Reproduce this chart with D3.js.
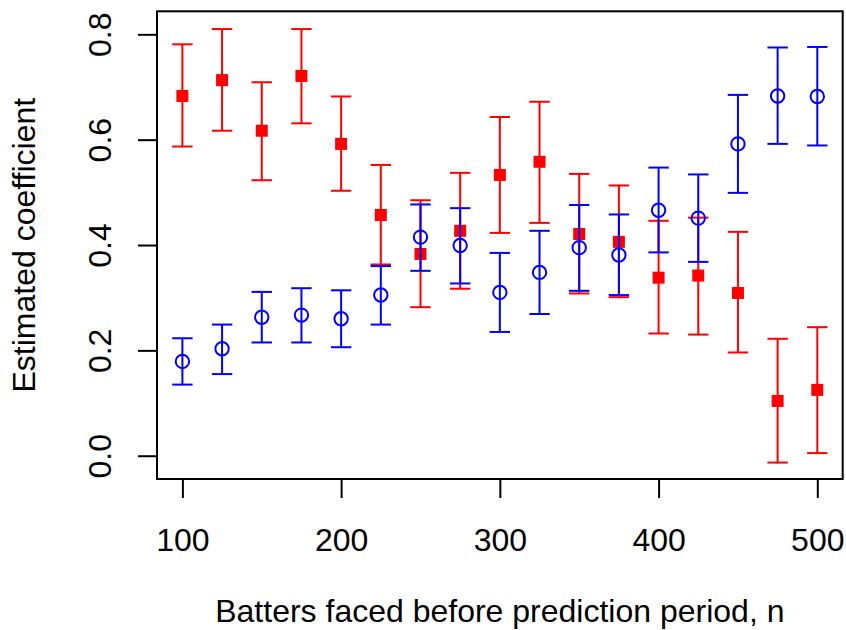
<!DOCTYPE html>
<html>
<head>
<meta charset="utf-8">
<script src="https://cdn.jsdelivr.net/npm/d3@7"></script>
<style>
  html, body { margin: 0; padding: 0; background: #fff; }
  svg { display: block; }
  text { font-family: "Liberation Sans", Arial, Helvetica, sans-serif; fill: #000; }
</style>
</head>
<body>
<svg id="chart" width="846" height="630"></svg>
<script>
// ---- data ----
const batters = [100,125,150,175,200,225,250,275,300,325,350,375,400,425,450,475,500];

const redEst = [0.683,0.713,0.617,0.721,0.592,0.457,0.383,0.427,0.533,0.558,0.421,0.406,0.338,0.342,0.309,0.104,0.125];
const redLo  = [0.587,0.617,0.523,0.631,0.503,0.363,0.282,0.317,0.423,0.442,0.308,0.301,0.232,0.230,0.196,-0.013,0.005];
const redHi  = [0.781,0.810,0.709,0.810,0.682,0.552,0.485,0.537,0.643,0.672,0.535,0.513,0.446,0.452,0.425,0.222,0.244];

const blueEst = [0.179,0.203,0.263,0.267,0.260,0.305,0.415,0.399,0.310,0.348,0.395,0.381,0.466,0.451,0.592,0.683,0.682];
const blueLo  = [0.135,0.155,0.215,0.215,0.206,0.249,0.351,0.327,0.235,0.269,0.313,0.305,0.386,0.368,0.499,0.592,0.589];
const blueHi  = [0.223,0.249,0.311,0.318,0.314,0.360,0.477,0.470,0.385,0.427,0.476,0.458,0.547,0.534,0.685,0.775,0.776];

const xTicks = [100,200,300,400,500];
const yTicks = [0.0,0.2,0.4,0.6,0.8];
const xTitle = "Batters faced before prediction period, n";
const yTitle = "Estimated coefficient";

// ---- layout ----
const plot = {left: 157, right: 842.7, top: 11.3, bottom: 479};
const x = d3.scaleLinear().domain([84, 516]).range([plot.left, plot.right]);
const y = d3.scaleLinear().domain([-0.0442, 0.8437]).range([plot.bottom, plot.top]);

const svg = d3.select("#chart");
svg.append("rect").attr("x",0).attr("y",0).attr("width",846).attr("height",630).attr("fill","#fff");

const FS = 32;
const tickLen = 19;

// x axis
const xAxis = d3.axisBottom(x).tickValues(xTicks).tickSize(tickLen).tickFormat(d3.format("d"));
const gx = svg.append("g").attr("transform", `translate(0,${plot.bottom})`).call(xAxis);
gx.select(".domain").attr("d", `M${x(xTicks[0])},0H${x(xTicks[xTicks.length-1])}`)
  .attr("stroke","#000").attr("stroke-width",2);
gx.selectAll(".tick line").attr("stroke","#000").attr("stroke-width",2);
gx.selectAll(".tick text").attr("y", 71.7).attr("dy", null)
  .style("font-size", FS + "px").attr("font-family", null);

// y axis
const yAxis = d3.axisLeft(y).tickValues(yTicks).tickSize(tickLen).tickFormat(d3.format(".1f"));
const gy = svg.append("g").attr("transform", `translate(${plot.left},0)`).call(yAxis);
gy.select(".domain").attr("d", `M0,${y(yTicks[0])}V${y(yTicks[yTicks.length-1])}`)
  .attr("stroke","#000").attr("stroke-width",2);
gy.selectAll(".tick line").attr("stroke","#000").attr("stroke-width",2);
gy.selectAll(".tick text")
  .attr("x", null).attr("dy", null)
  .attr("transform", "translate(-46.3,0) rotate(-90)")
  .attr("text-anchor", "middle")
  .style("font-size", FS + "px");
gy.attr("font-family", null).attr("font-size", null);
gx.attr("font-family", null).attr("font-size", null);

// box
svg.append("rect")
  .attr("x", plot.left).attr("y", plot.top)
  .attr("width", plot.right - plot.left).attr("height", plot.bottom - plot.top)
  .attr("fill","none").attr("stroke","#000").attr("stroke-width",2);

// titles
svg.append("text").attr("x", (plot.left+plot.right)/2).attr("y", 622.3)
  .attr("text-anchor","middle").style("font-size", FS+"px").text(xTitle);
svg.append("text")
  .attr("transform", `translate(35,${(plot.top+plot.bottom)/2}) rotate(-90)`)
  .attr("text-anchor","middle").style("font-size", FS+"px").text(yTitle);

// ---- series ----
const capHalf = 10.2;
function drawBars(est, lo, hi, color) {
  const g = svg.append("g").attr("stroke", color).attr("stroke-width", 2).attr("fill","none");
  const data = batters.map((b,i) => ({b, e: est[i], l: lo[i], h: hi[i]}));
  g.selectAll("line.v").data(data).join("line").attr("class","v")
    .attr("x1", d => x(d.b)).attr("x2", d => x(d.b))
    .attr("y1", d => y(d.l)).attr("y2", d => y(d.h));
  g.selectAll("line.hi").data(data).join("line").attr("class","hi")
    .attr("x1", d => x(d.b)-capHalf).attr("x2", d => x(d.b)+capHalf)
    .attr("y1", d => y(d.h)).attr("y2", d => y(d.h));
  g.selectAll("line.lo").data(data).join("line").attr("class","lo")
    .attr("x1", d => x(d.b)-capHalf).attr("x2", d => x(d.b)+capHalf)
    .attr("y1", d => y(d.l)).attr("y2", d => y(d.l));
  return data;
}

const redData = drawBars(redEst, redLo, redHi, "#ff0000");
const sq = 12;
svg.append("g").selectAll("rect").data(redData).join("rect")
  .attr("x", d => x(d.b) - sq/2).attr("y", d => y(d.e) - sq/2)
  .attr("width", sq).attr("height", sq).attr("fill", "#ff0000");

const blueData = drawBars(blueEst, blueLo, blueHi, "#0000ff");
svg.append("g").selectAll("circle").data(blueData).join("circle")
  .attr("cx", d => x(d.b)).attr("cy", d => y(d.e)).attr("r", 6.7)
  .attr("fill", "none").attr("stroke", "#0000ff").attr("stroke-width", 2);
</script>
</body>
</html>
